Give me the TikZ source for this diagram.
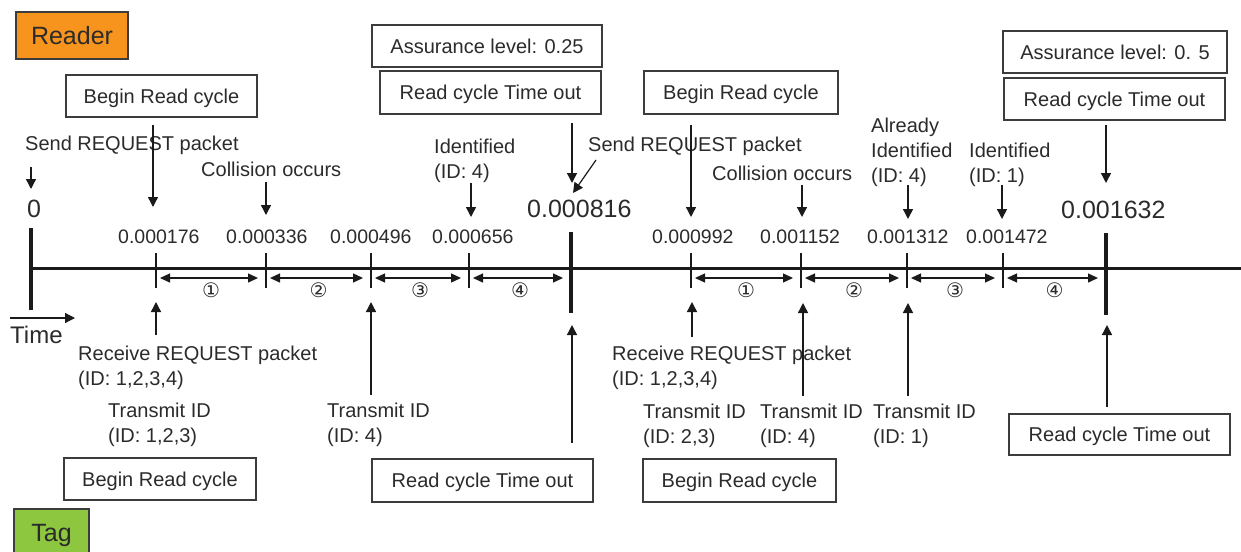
\documentclass[tikz,border=0pt]{standalone}
\usepackage{fontspec}
\setmainfont{Liberation Sans}
\newfontfamily\symfont{DejaVu Sans}
\usetikzlibrary{arrows.meta}
\definecolor{txt}{HTML}{2B2B2B}
\definecolor{ln}{HTML}{1A1A1A}
\definecolor{orng}{HTML}{F7941D}
\definecolor{grn}{HTML}{8DC63F}
\begin{document}
\begin{tikzpicture}[x=1pt,y=-1pt,
  lbl/.style={font=\fontsize{20}{25}\selectfont, text=txt, inner sep=0pt, anchor=base west, align=left},
  num/.style={font=\fontsize{19.5}{22}\selectfont, text=txt, inner sep=0pt, anchor=base west},
  bignum/.style={font=\fontsize{25}{28}\selectfont, text=txt, inner sep=0pt, anchor=base west},
  box/.style={draw=ln!85, line width=1.3pt, fill=white, font=\fontsize{20}{24}\selectfont, text=txt,
              text height=14.5pt, text depth=0pt, inner sep=0pt},
  arr/.style={draw=ln, line width=1.4pt, -{Triangle[length=10pt,width=10pt]}},
  dbl/.style={draw=ln, line width=1.3pt, {Triangle[length=10pt,width=9pt]}-{Triangle[length=10pt,width=9pt]}},
  circ/.style={font=\symfont\fontsize{20}{22}\selectfont, text=txt, inner sep=0pt},
  thick tick/.style={draw=ln, line width=3.8pt},
  thin tick/.style={draw=ln, line width=1.5pt}
]
\useasboundingbox (0,0) rectangle (1241,551);

% role boxes
\node[box, fill=orng, minimum width=112pt, minimum height=47pt, font=\fontsize{25}{28}\selectfont, text height=18pt] (reader) at (72,35.5) {Reader};
\node[box, fill=grn, minimum width=75pt, minimum height=46pt, font=\fontsize{25}{28}\selectfont, text height=18pt] (tag) at (51.5,532) {Tag};

% top boxes
\node[box, minimum width=191pt, minimum height=42pt] (brc1) at (161.5,96) {Begin Read cycle};
\node[box, minimum width=230pt, minimum height=42pt] (al1) at (487,46) {Assurance level: 0.25};
\node[box, minimum width=221pt, minimum height=43pt] (rct1) at (490.5,92.5) {Read cycle Time out};
\node[box, minimum width=194pt, minimum height=43pt] (brc2) at (741,92.5) {Begin Read cycle};
\node[box, minimum width=224pt, minimum height=42pt] (al2) at (1115,52) {Assurance level: 0. 5};
\node[box, minimum width=221pt, minimum height=42pt] (rct2) at (1114.5,99) {Read cycle Time out};

% bottom boxes
\node[box, minimum width=192pt, minimum height=42pt] (brc3) at (160,479) {Begin Read cycle};
\node[box, minimum width=221pt, minimum height=43pt] (rct3) at (482.5,480.5) {Read cycle Time out};
\node[box, minimum width=193pt, minimum height=43pt] (brc4) at (739.5,480.5) {Begin Read cycle};
\node[box, minimum width=221pt, minimum height=41pt] (rct4) at (1119.5,434.5) {Read cycle Time out};

% timeline
\coordinate (tl0) at (31,268);
\coordinate (tlend) at (1241,268);
\draw[draw=ln, line width=3pt] (tl0) -- (tlend);
\coordinate (v0a) at (31,228); \coordinate (v0b) at (31,310);
\coordinate (v1a) at (571,232); \coordinate (v1b) at (571,313);
\coordinate (v2a) at (1106,233); \coordinate (v2b) at (1106,315);
\draw[thick tick] (v0a) -- (v0b);
\draw[thick tick] (v1a) -- (v1b);
\draw[thick tick] (v2a) -- (v2b);
\foreach \x/\n in {156/t1,266/t2,371/t3,469/t4,691/t5,801/t6,907/t7,1003/t8}{
  \coordinate (\n a) at (\x,253); \coordinate (\n b) at (\x,288);
  \draw[thin tick] (\n a) -- (\n b);
}
% interval arrows
\foreach \a/\b/\c/\n in {156/266/①/d1,266/371/②/d2,371/469/③/d3,469/571/④/d4,
                          691/801/①/d5,801/907/②/d6,907/1003/③/d7,1003/1106/④/d8}{
  \coordinate (\n s) at (\a+4,278); \coordinate (\n e) at (\b-8,278);
  \draw[dbl] (\n s) -- (\n e);
  \node[circ] (\n c) at ({(\a+\b)/2},290.5) {\c};
}

% numbers
\node[bignum] (n0) at (27,217) {0};
\node[num] (n1) at (118,243) {0.000176};
\node[num] (n2) at (226,243) {0.000336};
\node[num] (n3) at (330,243) {0.000496};
\node[num] (n4) at (432,243) {0.000656};
\node[bignum] (n5) at (527,217) {0.000816};
\node[num] (n6) at (652,243) {0.000992};
\node[num] (n7) at (760,243) {0.001152};
\node[num] (n8) at (867,243) {0.001312};
\node[num] (n9) at (966,243) {0.001472};
\node[bignum] (n10) at (1061,218) {0.001632};

% top labels (base = baseline of last line)
\node[lbl] (srp1) at (25,150) {Send REQUEST packet};
\node[lbl] (col1) at (201,176) {Collision occurs};
\node[lbl] (idf1) at (434,178) {Identified\\(ID: 4)};
\node[lbl] (srp2) at (588,151) {Send REQUEST packet};
\node[lbl] (col2) at (712,180) {Collision occurs};
\node[lbl] (aid) at (871,182) {Already\\Identified\\(ID: 4)};
\node[lbl] (idf2) at (969,182) {Identified\\(ID: 1)};

% bottom labels
\node[lbl] (rrp1) at (78,385) {Receive REQUEST packet\\(ID: 1,2,3,4)};
\node[lbl] (tx1) at (108,442) {Transmit ID\\(ID: 1,2,3)};
\node[lbl] (tx2) at (327,442) {Transmit ID\\(ID: 4)};
\node[lbl] (rrp2) at (612,385) {Receive REQUEST packet\\(ID: 1,2,3,4)};
\node[lbl] (tx3) at (643,443) {Transmit ID\\(ID: 2,3)};
\node[lbl] (tx4) at (760,443) {Transmit ID\\(ID: 4)};
\node[lbl] (tx5) at (873,443) {Transmit ID\\(ID: 1)};
\node[lbl, font=\fontsize{24}{28}\selectfont] (time) at (10,343) {Time};

% time arrow
\coordinate (ts) at (10,318); \coordinate (te) at (75,318);
\draw[arr, line width=1.3pt] (ts) -- (te);

% top arrows (down)
\foreach \x/\ya/\yb/\n in {31/167/189/u1, 153/125/207/u2, 266/182/215/u3, 471/183/217/u4,
   572/123/183/u5, 691/125/217/u6, 802/185/217/u7, 908/185/219/u8, 1002/185/219/u9, 1106/125/183/u10}{
  \coordinate (\n s) at (\x,\ya); \coordinate (\n e) at (\x,\yb);
  \draw[arr] (\n s) -- (\n e);
}
\coordinate (dgs) at (596,160); \coordinate (dge) at (573,193);
\draw[arr, line width=1.2pt] (dgs) -- (dge);

% bottom arrows (up)
\foreach \x/\ya/\yb/\n in {156/335/302/b1, 371/395/302/b2, 572/443/325/b3, 692/337/302/b4,
   803/396/303/b5, 908/396/303/b6, 1107/407/325/b7}{
  \coordinate (\n s) at (\x,\ya); \coordinate (\n e) at (\x,\yb);
  \draw[arr] (\n s) -- (\n e);
}
\end{tikzpicture}
\end{document}
